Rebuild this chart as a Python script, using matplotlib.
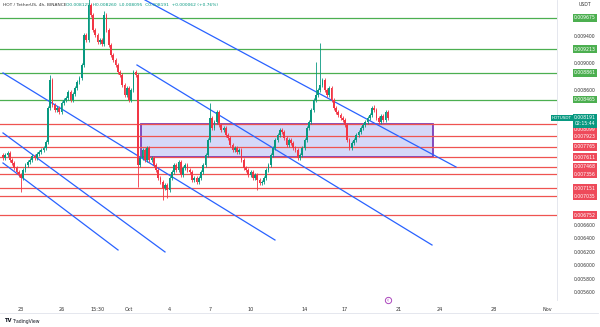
"""
HOT / TetherUS 4h chart with support/resistance levels and channel lines
"""

import numpy as np
import pandas as pd
import matplotlib
matplotlib.use('Agg')
import matplotlib.pyplot as plt
import matplotlib.dates as mdates
from matplotlib.patches import Rectangle
from matplotlib.transforms import blended_transform_factory

plt.rcParams['font.family'] = ['DejaVu Sans']

# 4h closes in millionths of USDT, first candle 2024-09-21 16:00
closes = [7600, 7644, 7674, 7570, 7526, 7452, 7393, 7348, 7304, 7422, 7496, 7541,
          7570, 7630, 7600, 7659, 7689, 7719, 7748, 7837, 8341, 8756, 8385, 8311,
          8341, 8282, 8415, 8459, 8489, 8578, 8459, 8548, 8637, 8726, 8785, 8978,
          9422, 9348, 9867, 9719, 9497, 9422, 9319, 9348, 9289, 9719, 9497, 9274,
          9126, 9052, 8978, 8874, 8830, 8682, 8533, 8637, 8459, 8608, 8874, 8830,
          7496, 7600, 7719, 7570, 7748, 7570, 7600, 7496, 7422, 7304, 7245, 7156,
          7200, 7126, 7304, 7393, 7496, 7422, 7541, 7348, 7452, 7496, 7422, 7393,
          7274, 7304, 7245, 7304, 7393, 7496, 7644, 7867, 8193, 8045, 8134, 8282,
          8089, 8015, 8045, 7941, 7897, 7793, 7719, 7748, 7689, 7719, 7570, 7452,
          7422, 7348, 7393, 7304, 7348, 7274, 7230, 7245, 7304, 7422, 7496, 7644,
          7748, 7867, 7941, 8015, 7985, 7897, 7793, 7867, 7822, 7748, 7719, 7600,
          7644, 7748, 7867, 8045, 8134, 8311, 8459, 8533, 8608, 8682, 8756, 8608,
          8533, 8637, 8459, 8341, 8282, 8237, 8193, 8163, 8089, 7867, 7748, 7822,
          7867, 7941, 7985, 8045, 8089, 8134, 8193, 8237, 8341, 8311, 8193, 8134,
          8222, 8163, 8282, 8191]
first_open = 7650
wick = 25
big_highs = {21: 8830, 38: 10050, 45: 9778, 92: 8415, 95: 8311, 139: 9023, 141: 9304, 165: 8385}
big_lows = {8: 7096, 60: 7171, 71: 6978, 73: 7007, 113: 7126}

green_levels = [0.009675, 0.009213, 0.008861, 0.008465]
red_levels = [0.008099, 0.007923, 0.007765, 0.007611, 0.007468, 0.007356, 0.007151, 0.007035, 0.006752]
last_price = 0.008191

zone_start, zone_end = '2024-10-01 21:20', '2024-10-23 12:30'
zone_low, zone_high = 0.007611, 0.008099

channel_lines = [
    (('2024-10-02 04:30', 0.009941), ('2024-10-25 05:20', 0.007467)),
    (('2024-10-01 14:10', 0.008978), ('2024-10-23 10:40', 0.006311)),
    (('2024-09-21 16:00', 0.008860), ('2024-10-11 19:30', 0.006385)),
    (('2024-09-21 16:00', 0.007971), ('2024-10-03 16:00', 0.006208)),
    (('2024-09-21 16:00', 0.007526), ('2024-09-30 04:30', 0.006237)),
]

xtick_dates = ['2024-09-23', '2024-09-26', '2024-09-28 15:30', '2024-10-01', '2024-10-04',
               '2024-10-07', '2024-10-10', '2024-10-14', '2024-10-17', '2024-10-21',
               '2024-10-24', '2024-10-28', '2024-11-01']
xtick_labels = ['23', '26', '15:30', 'Oct', '4', '7', '10', '14', '17', '21', '24', '28', 'Nov']

UP, DOWN = '#089981', '#f23645'
GREEN_LINE, RED_LINE, BLUE = '#4caf50', '#ef5350', '#2962ff'

# candles
times = pd.date_range('2024-09-21 16:00', periods=len(closes), freq='4h')
x = mdates.date2num(times)
c = np.array(closes, dtype=float)
o = np.r_[first_open, c[:-1]]
hi = np.maximum(o, c) + wick
lo = np.minimum(o, c) - wick
for i, v in big_highs.items():
    hi[i] = v
for i, v in big_lows.items():
    lo[i] = v
c, o, hi, lo = c / 1e6, o / 1e6, hi / 1e6, lo / 1e6
cols = np.where(c >= o, UP, DOWN)

fig = plt.figure(figsize=(6, 3.27), dpi=100)
ax = fig.add_axes([0, 27 / 327, 557 / 600, 300 / 327])

ref = pd.Timestamp('2024-09-23')
ax.set_xlim(mdates.date2num(ref - pd.Timedelta(days=21 / 13.5)),
            mdates.date2num(ref + pd.Timedelta(days=536 / 13.5)))
ax.set_ylim(0.005496, 0.009941)

# zone box
zx0 = mdates.date2num(pd.Timestamp(zone_start))
zx1 = mdates.date2num(pd.Timestamp(zone_end))
ax.add_patch(Rectangle((zx0, zone_low), zx1 - zx0, zone_high - zone_low,
                       facecolor='#d5d8f8', edgecolor='#7b3fb8', linewidth=1.3, zorder=1))

for p in green_levels:
    ax.axhline(p, color=GREEN_LINE, linewidth=0.9, zorder=2)
for p in red_levels:
    ax.axhline(p, color=RED_LINE, linewidth=0.9, zorder=2)

for (d0, p0), (d1, p1) in channel_lines:
    ax.plot([mdates.date2num(pd.Timestamp(d0)), mdates.date2num(pd.Timestamp(d1))],
            [p0, p1], color=BLUE, linewidth=0.9, zorder=2)

ax.vlines(x, lo, hi, colors=cols, linewidth=0.6, zorder=3)
body = np.maximum(np.abs(c - o), 0.000015)
ax.bar(x, body, bottom=np.minimum(o, c), width=0.13, color=cols, linewidth=0, zorder=4)

# axes styling
for s in ['top', 'left', 'bottom']:
    ax.spines[s].set_visible(False)
ax.spines['right'].set_color('#e0e3eb')
ax.spines['right'].set_linewidth(0.6)
fig.add_artist(plt.Line2D([0, 598 / 600], [1 - 313 / 327] * 2, color='#e0e3eb',
                          linewidth=0.6, transform=fig.transFigure))
ax.set_yticks([])
ax.set_xticks([mdates.date2num(pd.Timestamp(d)) for d in xtick_dates], xtick_labels)
ax.tick_params(axis='x', length=0, labelsize=3.5, colors='#333333', pad=5)

trans = blended_transform_factory(ax.transAxes, ax.transData)
xc = 585 / 557
all_levels = green_levels + red_levels + [last_price]
for p in np.arange(0.0056, 0.00961, 0.0002):
    if min(abs(p - q) for q in all_levels) < 0.00011:
        continue
    ax.text(xc, p, f'{p:.6f}', transform=trans, ha='center', va='center',
            fontsize=3.3, color='#333333', clip_on=False, zorder=1)

# the 0.008099 tag sits just under the last-price tag
label_shift = {0.008099: -0.00007}
for levels, col in [(green_levels, GREEN_LINE), (red_levels, '#ee4a5a')]:
    for p in levels:
        ax.text(xc, p + label_shift.get(p, 0), f'{p:.6f}', transform=trans,
                ha='center', va='center', fontsize=3.3, color='white', clip_on=False,
                zorder=6, bbox=dict(boxstyle='square,pad=0.3', fc=col, ec='none'))

ax.text(xc, last_price - 0.00004, f'{last_price:.6f}\n02:15:44', transform=trans,
        ha='center', va='center', fontsize=3.3, color='white', clip_on=False, zorder=7,
        linespacing=1.2, bbox=dict(boxstyle='square,pad=0.3', fc='#089981', ec='none'))
ax.text(562 / 557, last_price, 'HOTUSDT', transform=trans, ha='center', va='center',
        fontsize=3.0, color='white', clip_on=False, zorder=7,
        bbox=dict(boxstyle='square,pad=0.3', fc='#089981', ec='none'))

# header, currency, logo, event marker
fig.text(3 / 600, 1 - 5 / 327, 'HOT / TetherUS, 4h, BINANCE', fontsize=3.2,
         color='#333333', va='center')
fig.text(66 / 600, 1 - 5 / 327, 'O0.008129  H0.008260  L0.008095  C0.008191  +0.000062 (+0.76%)',
         fontsize=3.2, color=UP, va='center')
fig.text(585 / 600, 1 - 5 / 327, 'USDT', fontsize=3.3, color='#333333', ha='center', va='center')
fig.text(4 / 600, 1 - 321 / 327, 'TV', fontsize=3.8, color='#131722', fontweight='bold', va='center')
fig.text(12 / 600, 1 - 321 / 327, 'TradingView', fontsize=3.3, color='#131722', va='center')
fig.add_artist(plt.Line2D([388 / 600], [1 - 300 / 327], marker='o', markersize=4.5,
                          markerfacecolor='white', markeredgecolor='#ab47bc',
                          markeredgewidth=0.7, transform=fig.transFigure))
fig.text(388 / 600, 1 - 300 / 327, '¢', fontsize=2.6, color='#ab47bc', ha='center', va='center')

fig.savefig('out.png', dpi=100, facecolor='white')
